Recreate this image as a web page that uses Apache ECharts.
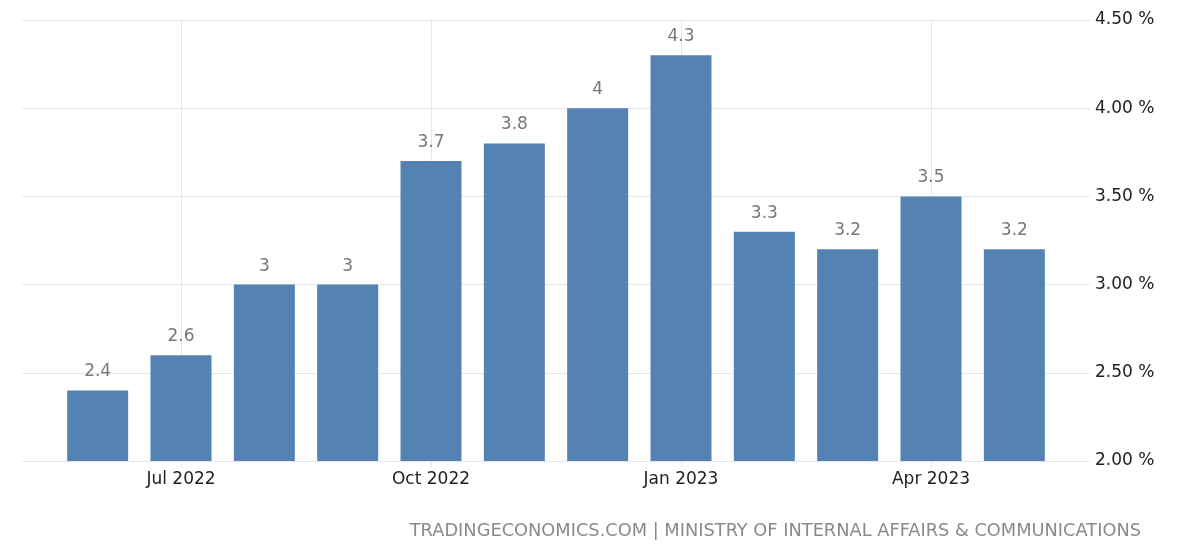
<!DOCTYPE html>
<html>
<head>
<meta charset="utf-8">
<script src="https://cdn.jsdelivr.net/npm/echarts@6/dist/echarts.min.js"></script>
<style>html,body{margin:0;padding:0;background:#fff;}#c{width:1200px;height:548px;}</style>
</head>
<body>
<div id="c"></div>
<script>
var categories = ['Jun 2022','Jul 2022','Aug 2022','Sep 2022','Oct 2022','Nov 2022','Dec 2022','Jan 2023','Feb 2023','Mar 2023','Apr 2023','May 2023'];
var values = [2.4, 2.6, 3, 3, 3.7, 3.8, 4, 4.3, 3.3, 3.2, 3.5, 3.2];
var yTicks = {min: 2, max: 4.5, interval: 0.5};
var footer = 'TRADINGECONOMICS.COM | MINISTRY OF INTERNAL AFFAIRS & COMMUNICATIONS';

var font = 'DejaVu Sans';
var chart = echarts.init(document.getElementById('c'), null, {renderer: 'canvas'});
var showIdx = function (i) { return i % 3 === 1; };
chart.setOption({
  animation: false,
  backgroundColor: '#ffffff',
  title: {
    text: footer,
    right: 54, bottom: 3,
    textStyle: {fontFamily: font, fontSize: 17.8, fontWeight: 'normal', color: '#8a8a8a'}
  },
  grid: [
    {left: 22, right: 110, top: 20, bottom: 87},
    {left: 56, right: 144, top: 20, bottom: 87}
  ],
  xAxis: [
    {gridIndex: 0, type: 'value', min: 0, max: 1, show: false},
    {
      gridIndex: 1, type: 'category', data: categories, boundaryGap: true,
      axisLine: {show: false},
      axisTick: {show: true, alignWithLabel: true, interval: showIdx, length: 6, lineStyle: {color: '#e6e6e6'}},
      axisLabel: {interval: showIdx, margin: 10, fontFamily: font, fontSize: 17, color: '#222'},
      splitLine: {show: true, alignWithLabel: true, interval: showIdx, lineStyle: {color: '#e6e6e6', width: 1}}
    }
  ],
  yAxis: [
    {
      gridIndex: 0, type: 'value', position: 'right',
      min: yTicks.min, max: yTicks.max, interval: yTicks.interval,
      axisLine: {show: false}, axisTick: {show: false},
      axisLabel: {margin: 5, fontFamily: font, fontSize: 17, color: '#222', padding: [3, 0, 0, 0],
        formatter: function (v) { return v.toFixed(2) + ' %'; }},
      splitLine: {show: true, lineStyle: {color: '#e6e6e6', width: 1}}
    },
    {
      gridIndex: 1, type: 'value', min: yTicks.min, max: yTicks.max, interval: yTicks.interval,
      show: false, splitLine: {show: false}
    }
  ],
  series: [{
    type: 'bar', xAxisIndex: 1, yAxisIndex: 1,
    data: values, barWidth: 61, clip: true,
    itemStyle: {color: '#5482b3'},
    label: {show: true, position: 'top', distance: 10, fontFamily: font, fontSize: 17, color: '#777'}
  }]
});
</script>
</body>
</html>
